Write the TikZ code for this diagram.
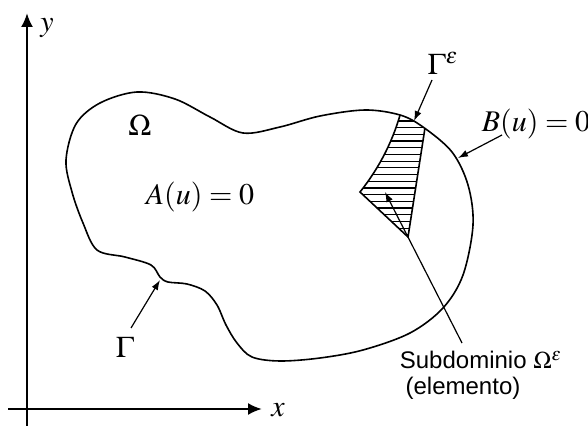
\documentclass[tikz,border=0pt]{standalone}
\usepackage{mathptmx}
\usepackage{fontspec}
\setmainfont{Liberation Sans}
\usetikzlibrary{arrows.meta}
\tikzset{
  axis/.style={line width=1.1pt,-{Latex[length=7pt,width=6pt]}},
  pointer/.style={line width=0.6pt,-{Latex[length=5pt,width=3.5pt]}},
  mlab/.style={font=\fontsize{15}{18}\selectfont},
  tlab/.style={font=\fontsize{12}{14}\selectfont},
}
\def\blob{plot[smooth cycle,tension=0.55] coordinates {(66,160) (76,124) (100,103) (137,92) (175,99) (210,117) (243,133) (280,127) (320,116) (365,110) (400,115) (423,127) (452,152) (468,185) (473,225) (463,275) (443,308) (410,333) (363,350) (320,358) (280,361) (252,357) (237,343) (226,325) (217,305) (205,291) (187,284) (168,282) (160,277) (151,265) (125,257) (97,250) (83,223) (72,192)}}
\begin{document}
\begin{tikzpicture}[x=0.5pt,y=-0.5pt]
 \useasboundingbox (0,0) rectangle (588,426);
 % axes
 \coordinate (xstart) at (8,409);
 \coordinate (xend) at (262,409);
 \coordinate (ystart) at (27,426);
 \coordinate (yend) at (27,13);
 \draw [axis] (xstart) -- (xend);
 \draw [axis] (ystart) -- (yend);
 \node [mlab] (ylab) at (47,28) {$y$};
 \node [mlab] (xlab) at (278,410) {$x$};

 % element (hatched)
 \begin{scope}
  \clip \blob;
  \clip (360,192) .. controls (380,167) and (394,139) .. (402,108) -- (427,115) -- (408,237) -- cycle;
  \foreach \y in {121,127.7,...,236}{
    \draw [line width=0.6pt] (350,\y) -- (440,\y);
  }
 \end{scope}
 \begin{scope}
  \clip \blob;
  \draw [line width=0.8pt] (427,115) -- (408,237) -- (360,192) .. controls (380,167) and (394,139) .. (402,108);
 \end{scope}

 % domain
 \draw [line width=0.8pt] \blob;
 \node [mlab] (omega) at (140,125) {$\Omega$};
 \node [mlab] (aeq) at (200,197) {$A(u)=0$};
 \node [mlab] (gam) at (125,347) {$\Gamma$};
 \node [mlab] (game) at (443,63) {$\Gamma^{\varepsilon}$};
 \node [mlab] (beq) at (536,124) {$B(u)=0$};
 \node [tlab] (sub) at (481,360) {Subdominio $\Omega^{\varepsilon}$};
 \node [tlab] (elem) at (463,388) {(elemento)};

 % pointers
 \coordinate (gfrom) at (131,328);
 \coordinate (gtip) at (160,280);
 \coordinate (efrom) at (432,80);
 \coordinate (etip) at (414,121);
 \coordinate (bfrom) at (502,135);
 \coordinate (btip) at (458,158);
 \coordinate (sfrom) at (462,343);
 \coordinate (stip) at (385,192);
 \draw [pointer] (gfrom) -- (gtip);
 \draw [pointer] (efrom) -- (etip);
 \draw [pointer] (bfrom) -- (btip);
 \draw [pointer] (sfrom) -- (stip);
\end{tikzpicture}
\end{document}
